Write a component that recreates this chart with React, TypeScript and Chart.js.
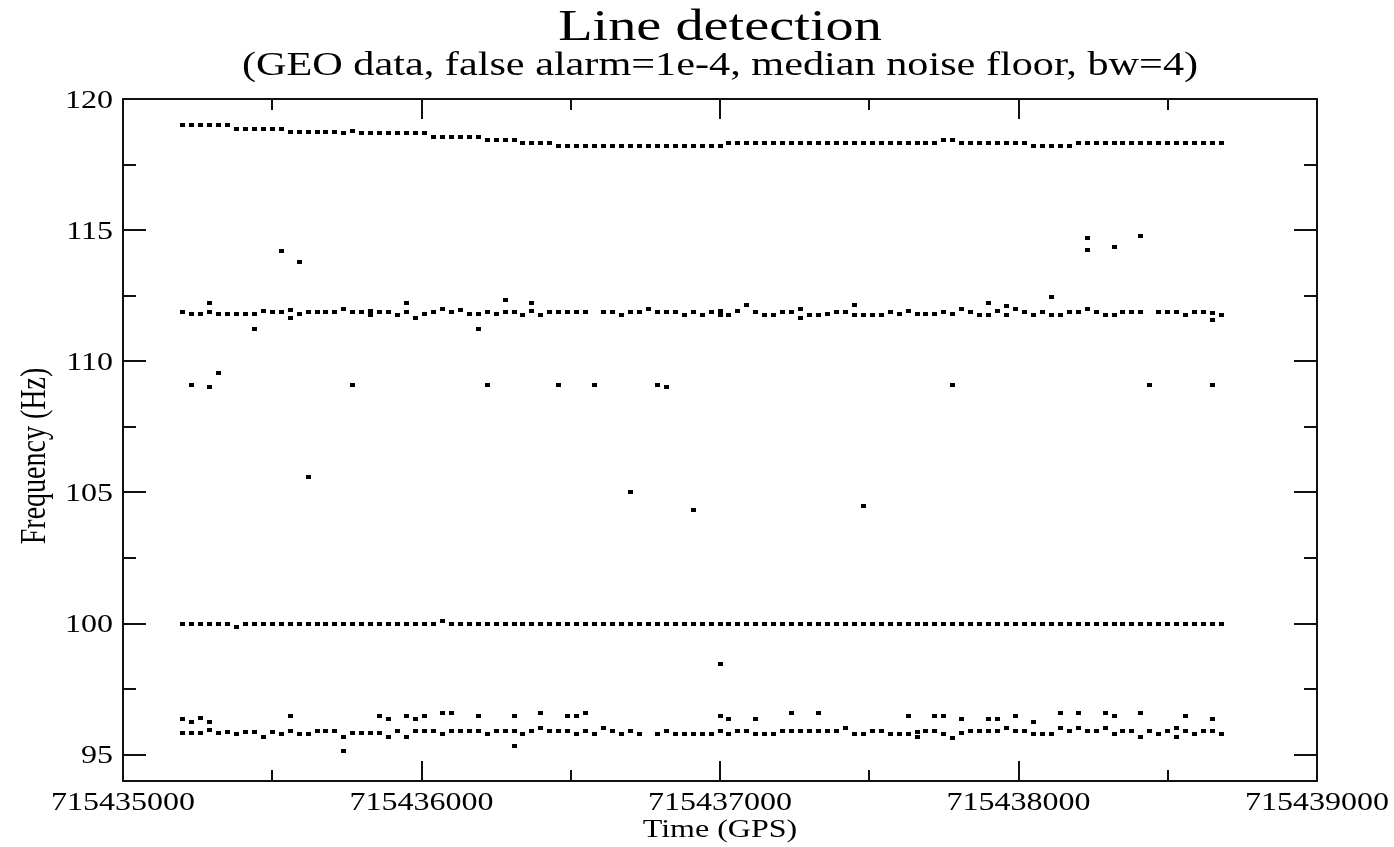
import { useEffect, useRef } from "react";
import { Chart, registerables } from "chart.js";

Chart.register(...registerables);

// Detection times: one spectrum every 30 s starting at GPS 715435200
const START_GPS = 715435200;
const STEP_S = 30;

const X_TICKS = [715435000, 715436000, 715437000, 715438000, 715439000];
const X_MINOR_TICKS = [715435500, 715436500, 715437500, 715438500];
const Y_TICKS = [95, 100, 105, 110, 115, 120];
const Y_MINOR_TICKS = [97.5, 102.5, 107.5, 112.5, 117.5];

// Drifting line near 119 Hz (one value per spectrum)
const LINE_119 = [
  119.02, 119.02, 119.02, 119.02, 119.02, 119.02,
  118.87, 118.87, 118.87, 118.87, 118.87, 118.87,
  118.76, 118.76, 118.76, 118.76, 118.76, 118.76,
  118.70, 118.79,
  118.70, 118.70, 118.70, 118.70, 118.70, 118.70, 118.70, 118.70,
  118.54, 118.54, 118.54, 118.54, 118.54, 118.54,
  118.45, 118.45, 118.45, 118.45,
  118.34, 118.34, 118.34, 118.34,
  118.19, 118.19, 118.19, 118.19, 118.19, 118.19, 118.19, 118.19, 118.19, 118.19,
  118.19, 118.19, 118.19, 118.19, 118.19, 118.19, 118.19, 118.19, 118.19,
  118.34, 118.34, 118.34, 118.34, 118.34, 118.34, 118.34, 118.34, 118.34, 118.34, 118.34, 118.34,
  118.34, 118.34, 118.34, 118.34, 118.34, 118.34, 118.34, 118.34, 118.34, 118.34, 118.34, 118.34,
  118.45, 118.45,
  118.34, 118.34, 118.34, 118.34, 118.34, 118.34, 118.34, 118.34,
  118.21, 118.21, 118.21, 118.21, 118.21,
  118.34, 118.34, 118.34, 118.34, 118.34, 118.34, 118.34, 118.34, 118.34,
  118.34, 118.34, 118.34, 118.34, 118.34, 118.34, 118.34, 118.34,
];

// Line near 111.8 Hz (null where it was not detected)
const LINE_112 = [
  111.88, 111.80, 111.80, 111.88, 111.80, 111.80, 111.80, 111.80, 111.80, 111.90,
  111.88, 111.88, 111.96, 111.80, 111.88, 111.88, 111.88, 111.88, 111.99, 111.88,
  111.88, 111.93, 111.88, 111.88, 111.77, 111.88, 111.65, 111.80, 111.88, 111.99,
  111.88, 111.96, 111.80, 111.80, 111.88, 111.80, 111.88, 111.88, 111.77, 111.90,
  111.77, 111.88, 111.88, 111.88, 111.88, 111.88, null, 111.88, 111.88, 111.77,
  111.88, 111.88, 111.99, 111.88, 111.88, 111.88, 111.77, 111.88, 111.77, 111.88,
  111.93, 111.77, 111.90, 112.15, 111.88, 111.77, 111.77, 111.88, 111.88, 111.99,
  111.77, 111.77, 111.80, 111.88, 111.88, 111.77, 111.77, 111.77, 111.77, 111.88,
  111.80, 111.90, 111.80, 111.80, 111.80, 111.88, 111.80, 111.99, 111.88, 111.77,
  111.77, 111.90, 111.77, 111.99, 111.88, 111.77, 111.88, 111.77, 111.77, 111.88,
  111.88, 111.99, 111.88, 111.77, 111.77, 111.88, 111.88, 111.88, null, 111.88,
  111.88, 111.88, 111.77, 111.88, 111.88, 111.85, 111.77,
];

// Calibration line at 100 Hz
const LINE_100 = [
  100.0, 100.0, 100.0, 100.0, 100.0, 100.0, 99.89, 100.0, 100.0, 100.0,
  100.0, 100.0, 100.0, 100.0, 100.0, 100.0, 100.0, 100.0, 100.0, 100.0,
  100.0, 100.0, 100.0, 100.0, 100.0, 100.0, 100.0, 100.0, 100.0, 100.10,
  100.0, 100.0, 100.0, 100.0, 100.0, 100.0, 100.0, 100.0, 100.0, 100.0,
  100.0, 100.0, 100.0, 100.0, 100.0, 100.0, 100.0, 100.0, 100.0, 100.0,
  100.0, 100.0, 100.0, 100.0, 100.0, 100.0, 100.0, 100.0, 100.0, 100.0,
  100.0, 100.0, 100.0, 100.0, 100.0, 100.0, 100.0, 100.0, 100.0, 100.0,
  100.0, 100.0, 100.0, 100.0, 100.0, 100.0, 100.0, 100.0, 100.0, 100.0,
  100.0, 100.0, 100.0, 100.0, 100.0, 100.0, 100.0, 100.0, 100.0, 100.0,
  100.0, 100.0, 100.0, 100.0, 100.0, 100.0, 100.0, 100.0, 100.0, 100.0,
  100.0, 100.0, 100.0, 100.0, 100.0, 100.0, 100.0, 100.0, 100.0, 100.0,
  100.0, 100.0, 100.0, 100.0, 100.0, 100.0, 100.0,
];

// Line near 95.8 Hz
const LINE_96 = [
  95.82, 95.82, 95.82, 95.95, 95.82, 95.88, 95.78, 95.88, 95.88, 95.69,
  95.88, 95.78, 95.91, 95.78, 95.78, 95.91, 95.91, 95.91, 95.69, 95.82,
  95.82, 95.82, 95.82, 95.69, 95.91, 95.69, 95.91, 95.91, 95.91, 95.78,
  95.91, 95.91, 95.91, 95.91, 95.78, 95.91, 95.91, 95.91, 95.78, 95.91,
  96.03, 95.91, 95.91, 95.91, 95.78, 95.91, 95.78, 96.01, 95.91, 95.78,
  95.91, 95.78, null, 95.78, 95.91, 95.78, 95.78, 95.78, 95.78, 95.78,
  95.91, 95.78, 95.91, 95.91, 95.78, 95.78, 95.78, 95.91, 95.91, 95.91,
  95.91, 95.91, 95.91, 95.91, 96.01, 95.78, 95.78, 95.91, 95.91, 95.78,
  95.78, 95.78, 95.88, 95.91, 95.91, 95.78, 95.65, 95.83, 95.91, 95.91,
  95.91, 95.91, 96.01, 95.91, 95.91, 95.78, 95.78, 95.78, 96.01, 95.91,
  96.01, 95.91, 95.91, 96.01, 95.78, 95.91, 95.91, 95.69, 95.91, 95.78,
  95.91, 96.01, 95.91, 95.78, 95.91, 95.91, 95.78,
];

// Additional detections: spectrum index and frequency
const SPUR_INDEX = [
  // around 96.4 Hz and below 95.8 Hz
  0, 1, 2, 3, 12, 22, 23, 25, 26, 27, 29, 30, 33, 37, 40, 43, 44, 45, 60, 61,
  64, 68, 71, 81, 84, 85, 87, 90, 91, 93, 95, 98, 100, 103, 104, 107, 112, 115,
  18, 37, 82, 111,
  // around 111.8 Hz
  3, 8, 12, 21, 25, 33, 36, 39, 60, 69, 75, 90, 92, 97, 115,
  // around 109.1 Hz
  1, 3, 4, 19, 34, 42, 46, 53, 54, 86, 108, 115,
  // isolated
  11, 13, 101, 101, 104, 107, 14, 50, 57, 76, 60,
];
const SPUR_HZ = [
  96.37, 96.26, 96.39, 96.26, 96.48, 96.48, 96.37, 96.48, 96.37, 96.48,
  96.58, 96.58, 96.48, 96.48, 96.58, 96.48, 96.48, 96.58, 96.48, 96.35,
  96.35, 96.58, 96.58, 96.48, 96.48, 96.48, 96.35, 96.35, 96.35, 96.48,
  96.26, 96.58, 96.58, 96.58, 96.48, 96.58, 96.48, 96.35,
  95.14, 95.35, 95.69, 95.69,
  112.24, 111.23, 111.67, 111.77, 112.24, 111.23, 112.32, 112.22, 111.77, 111.67,
  112.15, 112.22, 112.12, 112.47, 111.56,
  109.10, 109.02, 109.55, 109.10, 109.10, 109.10, 109.10, 109.10, 109.02, 109.10,
  109.10, 109.10,
  114.21, 113.78, 114.70, 114.23, 114.34, 114.76, 105.6, 105.02, 104.34, 104.49,
  98.45,
];

const TITLE = "Line detection";
const SUBTITLE = "(GEO data, false alarm=1e-4, median noise floor, bw=4)";
const X_TITLE = "Time (GPS)";
const Y_TITLE = "Frequency (Hz)";

const FONT = '"Liberation Serif", "Times New Roman", serif';
const TEXT_STRETCH = 1.28;

type Pt = { x: number; y: number };

function seriesPoints(values: (number | null)[]): Pt[] {
  const out: Pt[] = [];
  values.forEach((v, i) => {
    if (v !== null) out.push({ x: START_GPS + STEP_S * i, y: v });
  });
  return out;
}

function spurPoints(): Pt[] {
  return SPUR_INDEX.map((idx, k) => ({ x: START_GPS + STEP_S * idx, y: SPUR_HZ[k] }));
}

function drawText(
  ctx: CanvasRenderingContext2D,
  text: string,
  x: number,
  y: number,
  size: number,
  align: CanvasTextAlign,
  baseline: CanvasTextBaseline,
  rotate = false
) {
  ctx.save();
  ctx.translate(x, y);
  ctx.scale(TEXT_STRETCH, 1);
  if (rotate) ctx.rotate(-Math.PI / 2);
  ctx.font = `${size}px ${FONT}`;
  ctx.textAlign = align;
  ctx.textBaseline = baseline;
  ctx.fillStyle = "#000";
  ctx.fillText(text, 0, 0);
  ctx.restore();
}

// Box frame with inward ticks on all four sides, plus all text
const framePlugin = {
  id: "gpsFrame",
  afterDraw(chart: Chart) {
    const { ctx, chartArea: a } = chart;
    const xs = chart.scales.x;
    const ys = chart.scales.y;
    ctx.save();
    ctx.strokeStyle = "#111";
    ctx.lineWidth = 2;
    ctx.lineCap = "butt";
    ctx.strokeRect(a.left, a.top, a.right - a.left, a.bottom - a.top);

    ctx.beginPath();
    const xTick = (v: number, len: number) => {
      const px = Math.round(xs.getPixelForValue(v));
      ctx.moveTo(px, a.bottom);
      ctx.lineTo(px, a.bottom - len);
      ctx.moveTo(px, a.top);
      ctx.lineTo(px, a.top + len);
    };
    const yTick = (v: number, len: number) => {
      const py = Math.round(ys.getPixelForValue(v));
      ctx.moveTo(a.left, py);
      ctx.lineTo(a.left + len, py);
      ctx.moveTo(a.right, py);
      ctx.lineTo(a.right - len, py);
    };
    X_TICKS.forEach((v) => xTick(v, 20));
    X_MINOR_TICKS.forEach((v) => xTick(v, 11));
    Y_TICKS.forEach((v) => yTick(v, 23));
    Y_MINOR_TICKS.forEach((v) => yTick(v, 13));
    ctx.stroke();
    ctx.restore();

    X_TICKS.forEach((v) => {
      drawText(ctx, String(v), xs.getPixelForValue(v), 810, 25, "center", "alphabetic");
    });
    Y_TICKS.forEach((v) => {
      drawText(ctx, String(v), 113, ys.getPixelForValue(v) + 2, 25, "right", "middle");
    });

    const cx = (a.left + a.right) / 2;
    drawText(ctx, TITLE, cx, 40, 44, "center", "alphabetic");
    drawText(ctx, SUBTITLE, cx, 75, 33, "center", "alphabetic");
    drawText(ctx, X_TITLE, cx, 837, 25, "center", "alphabetic");
    drawText(ctx, Y_TITLE, 45, 456, 28, "center", "alphabetic", true);
  },
};

function makeMarker(): HTMLCanvasElement {
  const c = document.createElement("canvas");
  c.width = 5;
  c.height = 4;
  const g = c.getContext("2d")!;
  g.fillStyle = "#000";
  g.fillRect(0, 0, 5, 4);
  return c;
}

export default function App() {
  const canvasRef = useRef<HTMLCanvasElement | null>(null);

  useEffect(() => {
    const canvas = canvasRef.current;
    if (!canvas) return;
    const marker = makeMarker();
    const common = {
      showLine: false,
      pointStyle: marker,
      pointRadius: 3,
      pointHoverRadius: 3,
      backgroundColor: "#000",
      borderColor: "#000",
    };
    const chart = new Chart(canvas, {
      type: "scatter",
      data: {
        datasets: [
          { label: "119 Hz", data: seriesPoints(LINE_119), ...common },
          { label: "112 Hz", data: seriesPoints(LINE_112), ...common },
          { label: "100 Hz", data: seriesPoints(LINE_100), ...common },
          { label: "96 Hz", data: seriesPoints(LINE_96), ...common },
          { label: "other", data: spurPoints(), ...common },
        ],
      },
      options: {
        responsive: false,
        animation: false,
        devicePixelRatio: 1,
        layout: { padding: { left: 123, right: 77, top: 99, bottom: 66 } },
        plugins: { legend: { display: false }, tooltip: { enabled: false } },
        scales: {
          x: { type: "linear", min: 715435000, max: 715439000, display: false },
          y: { type: "linear", min: 94, max: 120, display: false },
        },
      },
      plugins: [framePlugin],
    });
    return () => chart.destroy();
  }, []);

  return (
    <div style={{ position: "fixed", left: 0, top: 0, width: 1394, height: 847, background: "#fff" }}>
      <canvas ref={canvasRef} width={1394} height={847} style={{ display: "block" }} />
    </div>
  );
}
